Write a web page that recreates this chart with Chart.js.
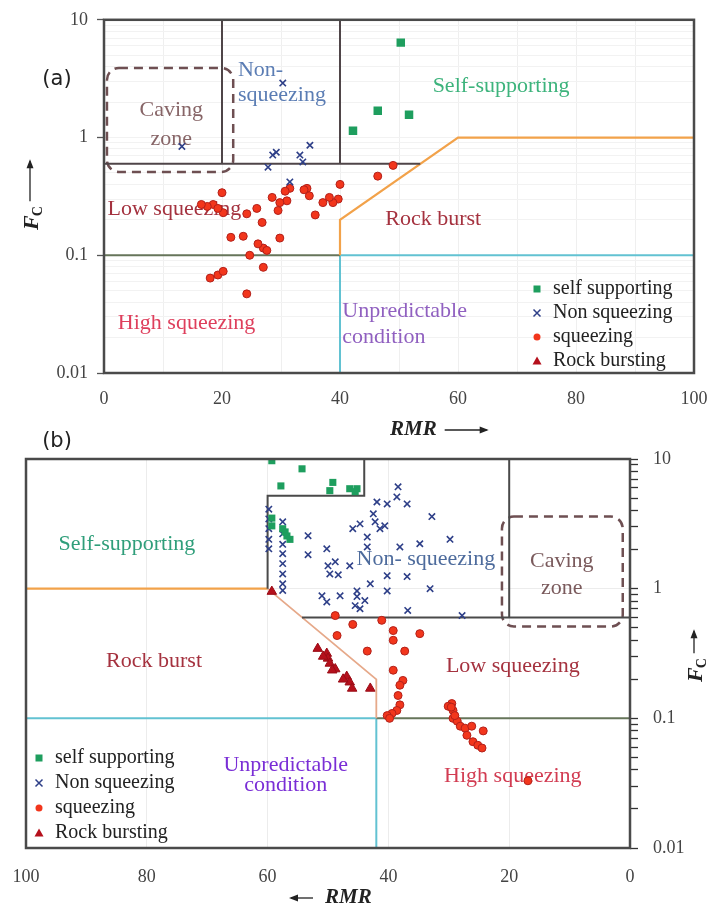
<!DOCTYPE html>
<html>
<head>
<meta charset="utf-8">
<script src="https://cdn.jsdelivr.net/npm/chart.js@4.4.1/dist/chart.umd.min.js"></script>
<style>
html, body { margin: 0; padding: 0; background: #fff; }
#wrap { position: relative; width: 710px; height: 912px; }
#chartA { position: absolute; left: 0; top: 0; }
#chartB { position: absolute; left: 0; top: 420px; }
</style>
</head>
<body>
<div id="wrap">
<canvas id="chartA" width="710" height="445"></canvas>
<canvas id="chartB" width="710" height="492"></canvas>
</div>
<script>
const SERIF = '"Liberation Serif", "DejaVu Serif", serif';

// axis ticks
const rmrTicks = [0, 10, 20, 30, 40, 50, 60, 70, 80, 90, 100];
const rmrLabels = [0, 20, 40, 60, 80, 100];
const fcTicks = [0.01, 0.02, 0.03, 0.04, 0.05, 0.06, 0.07, 0.08, 0.09,
                 0.1, 0.2, 0.3, 0.4, 0.5, 0.6, 0.7, 0.8, 0.9,
                 1, 2, 3, 4, 5, 6, 7, 8, 9, 10];
const fcLabels = [0.01, 0.1, 1, 10];

// (a) data points  [RMR, Fc]
const selfA = [[50.3, 6.4], [46.4, 1.69], [51.7, 1.56], [42.2, 1.14]];
const nonA = [[30.3, 2.9], [13.2, 0.84], [28.6, 0.71], [27.8, 0.56], [29.2, 0.75],
              [33.2, 0.71], [34.9, 0.86], [33.7, 0.62], [31.5, 0.42]];
const sqA = [[46.4, 0.47], [49, 0.58], [40, 0.40], [39.7, 0.30], [38.8, 0.28], [37.1, 0.28],
             [35.8, 0.22], [34.4, 0.37], [34.8, 0.32], [31.5, 0.37], [31, 0.29], [29.8, 0.28],
             [29.5, 0.24], [28.5, 0.31], [30.7, 0.35], [29.8, 0.14], [26.8, 0.19], [25.9, 0.25],
             [27, 0.115], [26.1, 0.125], [27.6, 0.11], [23.6, 0.145], [21.5, 0.142], [24.7, 0.1],
             [27, 0.079], [24.2, 0.047], [18, 0.064], [19.3, 0.068], [20.2, 0.073], [20, 0.34],
             [18.5, 0.27], [20.2, 0.23], [19.3, 0.25], [24.2, 0.225], [17.5, 0.26], [16.5, 0.27],
             [38.2, 0.31], [33.9, 0.36]];
const rockA = [];

// (b) data points  [RMR, Fc]
const selfB = [[59.3, 9.7], [54.3, 8.4], [57.8, 6.2], [49.2, 6.6], [49.7, 5.7], [46.4, 5.9],
               [45.2, 5.9], [45.5, 5.6], [59.3, 3.5], [59.3, 3.05], [57.1, 2.74], [56.3, 2.4],
               [57.5, 2.9], [56.8, 2.55]];
const nonB = [[59.8, 4.1], [59.8, 3.45], [59.8, 2.9], [59.8, 2.4], [59.8, 2.03],
              [57.5, 3.28], [57.5, 2.65], [57.5, 2.2], [57.5, 1.86], [57.5, 1.56], [57.5, 1.3],
              [57.5, 1.09], [57.5, 0.97], [53.3, 2.56], [53.3, 1.83], [50.2, 2.03], [48.8, 1.61],
              [50, 1.5], [49.7, 1.3], [48.3, 1.28], [51, 0.88], [48, 0.88], [50.2, 0.79],
              [45.2, 0.96], [45.2, 0.87], [45.5, 0.74], [43.9, 0.81], [45.9, 2.9], [44.7, 3.16],
              [42.5, 3.78], [42.2, 3.28], [41.4, 2.9], [43.5, 2.5], [41.9, 4.66], [40.2, 4.5],
              [38.4, 6.1], [38.6, 5.1], [36.9, 4.5], [32.8, 3.6], [43.5, 2.1], [38.1, 2.1],
              [34.8, 2.22], [29.8, 2.4], [40.2, 1.26], [36.9, 1.24], [43, 1.09], [40.2, 0.96],
              [33.1, 1.0], [36.8, 0.68], [27.8, 0.62], [44.7, 0.70], [40.6, 3.05], [46.4, 1.5]];
const sqB = [[48.8, 0.62], [45.9, 0.53], [41.1, 0.57], [48.5, 0.435], [43.5, 0.33], [39.2, 0.475],
             [39.2, 0.40], [34.8, 0.45], [37.3, 0.33], [39.2, 0.235], [37.6, 0.196], [38.1, 0.18],
             [38.4, 0.15], [38.1, 0.127], [38.6, 0.115], [39.4, 0.109], [40.2, 0.105], [39.8, 0.1],
             [29.5, 0.13], [29.3, 0.115], [29.3, 0.1], [28.6, 0.095], [28.1, 0.087], [27.3, 0.084],
             [26.2, 0.087], [24.3, 0.08], [26, 0.066], [25.2, 0.062], [24.5, 0.059], [27, 0.074],
             [30.1, 0.124], [29, 0.105], [29.6, 0.122], [16.9, 0.033]];
const rockB = [[59.3, 0.95], [51.7, 0.345], [50.2, 0.316], [50, 0.29], [49.7, 0.265], [48.8, 0.24],
               [49.3, 0.235], [46.9, 0.21], [46.4, 0.19], [46, 0.17], [43, 0.17], [50.8, 0.3],
               [47.5, 0.2]];

// boundary lines  [RMR, Fc]
const blackA = [[[20, 10], [20, 0.6]], [[40, 10], [40, 0.6]], [[0, 0.6], [53.6, 0.6]]];
const orangeA = [[40, 0.1], [40, 0.2], [60, 1], [100, 1]];
const oliveA = [[0, 0.1], [40, 0.1]];
const cyanA = [[[40, 0.1], [100, 0.1]], [[40, 0.1], [40, 0.01]]];
const cavingA = [0.5, 21.9, 0.51, 3.9];

const blackB = [[[60, 1], [60, 5.2], [44, 5.2], [44, 10]], [[20, 10], [20, 0.6]], [[54.3, 0.6], [0, 0.6]]];
const orangeB = [[100, 1], [60, 1], [42, 0.2], [42, 0.1]];
const oliveB = [[42, 0.1], [0, 0.1]];
const cyanB = [[[100, 0.1], [42, 0.1]], [[42, 0.1], [42, 0.01]]];
const cavingB = [1.2, 21.2, 0.51, 3.6];

const seriesNames = ['self supporting', 'Non squeezing', 'squeezing', 'Rock bursting'];

function pts(arr) { return arr.map(p => ({ x: p[0], y: p[1] })); }

function lineSet(arr, color, width) {
    return { data: pts(arr), showLine: true, pointRadius: 0, borderColor: color,
             borderWidth: width, order: 10, tension: 0 };
}

function markerSets(self, non, sq, rock, big) {
    return [
        { data: pts(self), pointStyle: 'rect', pointRadius: big ? 6 : 5, backgroundColor: '#1e9e5e',
          borderColor: '#1e9e5e', borderWidth: 0, order: 1 },
        { data: pts(non), pointStyle: 'crossRot', pointRadius: 4.5, borderColor: '#2e3f88',
          borderWidth: 1.6, order: 1 },
        { data: pts(sq), pointStyle: 'circle', pointRadius: 4, backgroundColor: '#f2361c',
          borderColor: '#b2201a', borderWidth: 1, order: 1 },
        { data: pts(rock), pointStyle: 'triangle', pointRadius: 5.5, backgroundColor: '#b5101c',
          borderColor: '#9a0c16', borderWidth: 1, order: 1 }
    ];
}

function drawMarker(ctx, style, x, y) {
    ctx.save();
    if (style === 0) {
        ctx.fillStyle = '#1e9e5e';
        ctx.fillRect(x - 3.5, y - 3.5, 7, 7);
    } else if (style === 1) {
        ctx.strokeStyle = '#2e3f88'; ctx.lineWidth = 1.5;
        ctx.beginPath();
        ctx.moveTo(x - 3.5, y - 3.5); ctx.lineTo(x + 3.5, y + 3.5);
        ctx.moveTo(x + 3.5, y - 3.5); ctx.lineTo(x - 3.5, y + 3.5);
        ctx.stroke();
    } else if (style === 2) {
        ctx.fillStyle = '#f2361c';
        ctx.beginPath(); ctx.arc(x, y, 3.5, 0, Math.PI * 2); ctx.fill();
    } else {
        ctx.fillStyle = '#b5101c';
        ctx.beginPath(); ctx.moveTo(x, y - 4.5); ctx.lineTo(x + 4.5, y + 3.5); ctx.lineTo(x - 4.5, y + 3.5);
        ctx.closePath(); ctx.fill();
    }
    ctx.restore();
}

function roundBox(ctx, x0, y0, x1, y1, r) {
    ctx.beginPath();
    ctx.moveTo(x0 + r, y0);
    ctx.arcTo(x1, y0, x1, y1, r);
    ctx.arcTo(x1, y1, x0, y1, r);
    ctx.arcTo(x0, y1, x0, y0, r);
    ctx.arcTo(x0, y0, x1, y0, r);
    ctx.closePath();
}

function hArrow(ctx, x0, x1, y) {
    // arrow head at x1
    const d = x1 > x0 ? 1 : -1;
    ctx.beginPath(); ctx.moveTo(x0, y); ctx.lineTo(x1 - d * 2, y); ctx.stroke();
    ctx.beginPath(); ctx.moveTo(x1, y); ctx.lineTo(x1 - d * 9, y - 3.5); ctx.lineTo(x1 - d * 9, y + 3.5);
    ctx.closePath(); ctx.fill();
}

function fcTitle(ctx, cx, yStart, arrowLen) {
    // rotated "F_C" reading upward followed by arrow
    ctx.save();
    ctx.translate(cx, yStart);
    ctx.rotate(-Math.PI / 2);
    ctx.fillStyle = '#222'; ctx.strokeStyle = '#222'; ctx.lineWidth = 1.3;
    ctx.textBaseline = 'alphabetic'; ctx.textAlign = 'left';
    ctx.font = 'bold italic 22px ' + SERIF;
    ctx.fillText('F', 0, 8);
    const w = ctx.measureText('F').width;
    ctx.font = 'bold 14px ' + SERIF;
    ctx.fillText('C', w - 1, 12);
    const w2 = w + ctx.measureText('C').width + 4;
    ctx.beginPath(); ctx.moveTo(w2, 0); ctx.lineTo(w2 + arrowLen - 2, 0); ctx.stroke();
    ctx.beginPath(); ctx.moveTo(w2 + arrowLen, 0); ctx.lineTo(w2 + arrowLen - 9, -3.5); ctx.lineTo(w2 + arrowLen - 9, 3.5);
    ctx.closePath(); ctx.fill();
    ctx.restore();
}

function makePlugin(cfg) {
    return {
        id: 'decor',
        beforeDatasetsDraw(chart) {
            const ctx = chart.ctx, xs = chart.scales.x, ys = chart.scales.y;
            // caving zone dashed box
            const c = cfg.caving;
            let xa = xs.getPixelForValue(c[0]), xb = xs.getPixelForValue(c[1]);
            const ya = ys.getPixelForValue(c[3]), yb = ys.getPixelForValue(c[2]);
            ctx.save();
            ctx.setLineDash([9, 6]);
            ctx.strokeStyle = '#6e4f52'; ctx.lineWidth = 2.5;
            roundBox(ctx, Math.min(xa, xb), ya, Math.max(xa, xb), yb, 12);
            ctx.stroke();
            ctx.restore();
            // region labels
            cfg.labels.forEach(it => {
                ctx.save();
                ctx.font = (it.f || '22px ') + SERIF;
                ctx.fillStyle = it.c;
                ctx.textAlign = it.a || 'center';
                ctx.textBaseline = 'middle';
                ctx.fillText(it.t, xs.getPixelForValue(it.x), ys.getPixelForValue(it.y));
                ctx.restore();
            });
        },
        afterDraw(chart) {
            const ctx = chart.ctx, a = chart.chartArea;
            ctx.save();
            ctx.strokeStyle = '#4a4a4a'; ctx.lineWidth = 2.5;
            ctx.strokeRect(a.left, a.top, a.right - a.left, a.bottom - a.top);
            // legend
            ctx.font = '20px ' + SERIF; ctx.fillStyle = '#222'; ctx.textBaseline = 'middle'; ctx.textAlign = 'left';
            seriesNames.forEach((n, i) => {
                const y = cfg.legY + i * cfg.legStep;
                drawMarker(ctx, i, cfg.legX, y);
                ctx.fillStyle = '#222';
                ctx.fillText(n, cfg.legX + 16, y);
            });
            // panel tag
            ctx.font = '21px "DejaVu Sans", sans-serif'; ctx.fillStyle = '#222';
            ctx.textAlign = 'center';
            ctx.fillText(cfg.tag[0], cfg.tag[1], cfg.tag[2]);
            // RMR title
            ctx.fillStyle = '#222'; ctx.strokeStyle = '#222'; ctx.lineWidth = 1.3;
            ctx.font = 'bold italic 21px ' + SERIF;
            ctx.textAlign = 'left'; ctx.textBaseline = 'middle';
            const rt = cfg.rmrTitle;
            ctx.fillText('RMR', rt.x, rt.y);
            const rw = ctx.measureText('RMR').width;
            if (rt.dir > 0) hArrow(ctx, rt.x + rw + 8, rt.x + rw + 52, rt.y);
            else hArrow(ctx, rt.x - 12, rt.x - 36, rt.y);
            ctx.restore();
            fcTitle(ctx, cfg.fc.x, cfg.fc.y, cfg.fc.len);
        }
    };
}

function makeChart(id, datasets, reverse, yPos, pad, yWidth, xHeight, grid, plugin) {
    return new Chart(document.getElementById(id), {
        type: 'scatter',
        data: { datasets: datasets },
        options: {
            responsive: false,
            animation: false,
            layout: { padding: pad },
            plugins: { legend: { display: false }, tooltip: { enabled: false } },
            scales: {
                x: {
                    type: 'linear', min: 0, max: 100, reverse: reverse,
                    afterBuildTicks: s => { s.ticks = rmrTicks.map(v => ({ value: v })); },
                    afterFit: s => { s.height = xHeight; s.paddingLeft = 0; s.paddingRight = 0; },
                    ticks: {
                        autoSkip: false, maxRotation: 0, padding: grid.xPad, color: '#444',
                        font: { family: SERIF, size: 18 },
                        callback: v => rmrLabels.includes(v) ? String(v) : ''
                    },
                    grid: { color: grid.xColor, drawTicks: false },
                    border: { display: false }
                },
                y: {
                    type: 'logarithmic', min: 0.01, max: 10, position: yPos,
                    afterBuildTicks: s => { s.ticks = fcTicks.map(v => ({ value: v })); },
                    afterFit: s => { s.width = yWidth; },
                    ticks: {
                        autoSkip: false, padding: grid.yPad, color: '#444',
                        font: { family: SERIF, size: 18 },
                        callback: v => fcLabels.includes(v) ? String(v) : ''
                    },
                    grid: {
                        color: grid.yColor, tickLength: grid.tickLen, tickWidth: 1.3,
                        tickColor: grid.tickColor
                    },
                    border: { display: false }
                }
            }
        },
        plugins: [plugin]
    });
}

// ---------- (a) ----------
const dsA = [
    ...markerSets(selfA, nonA, sqA, rockA, true),
    ...blackA.map(l => lineSet(l, '#4f4548', 2)),
    lineSet(orangeA, '#f2a24a', 2.2),
    lineSet(oliveA, '#66755a', 2),
    ...cyanA.map(l => lineSet(l, '#62c2d2', 2))
];
const labelsA = [
    { t: 'Non-', x: 22.7, y: 3.7, c: '#5b7db4', a: 'left' },
    { t: 'squeezing', x: 22.7, y: 2.3, c: '#5b7db4', a: 'left' },
    { t: 'Caving', x: 11.4, y: 1.72, c: '#876567' },
    { t: 'zone', x: 11.4, y: 0.96, c: '#876567' },
    { t: 'Self-supporting', x: 67.3, y: 2.73, c: '#3db37c' },
    { t: 'Low squeezing', x: 0.6, y: 0.248, c: '#a4323f', a: 'left' },
    { t: 'Rock burst', x: 55.8, y: 0.204, c: '#a5323f' },
    { t: 'High squeezing', x: 14, y: 0.0263, c: '#de3f5c' },
    { t: 'Unpredictable', x: 40.4, y: 0.0338, c: '#9060c0', a: 'left' },
    { t: 'condition', x: 40.4, y: 0.0201, c: '#9060c0', a: 'left' }
];
makeChart('chartA', dsA, false, 'left', { top: 17, right: 16, left: 0, bottom: 0 }, 104, 72,
    { xPad: 15, yPad: 9, tickLen: 7, xColor: '#efefef', yColor: '#f2f2f2',
      tickColor: c => fcLabels.includes(c.tick.value) ? '#555' : 'rgba(0,0,0,0)' },
    makePlugin({ caving: cavingA, labels: labelsA, legX: 537, legY: 289, legStep: 24,
                 tag: ['(a)', 57, 80], rmrTitle: { x: 390, y: 430, dir: 1 },
                 fc: { x: 30, y: 230, len: 42 } }));

// ---------- (b) ----------
const dsB = [
    ...markerSets(selfB, nonB, sqB, rockB, false),
    ...blackB.map(l => lineSet(l, '#4a4a4a', 2)),
    lineSet(orangeB.slice(0, 2), '#f2a24a', 2.2),
    lineSet(orangeB.slice(1), '#e6a98a', 1.8),
    lineSet(oliveB, '#66755a', 2),
    ...cyanB.map(l => lineSet(l, '#62c2d2', 2))
];
const labelsB = [
    { t: 'Self-supporting', x: 83.3, y: 2.22, c: '#2f9e7a' },
    { t: 'Non- squeezing', x: 33.8, y: 1.7, c: '#4d6b9c' },
    { t: 'Caving', x: 11.3, y: 1.64, c: '#7a5a5c' },
    { t: 'zone', x: 11.3, y: 1.0, c: '#7a5a5c' },
    { t: 'Rock burst', x: 78.8, y: 0.275, c: '#a5323f' },
    { t: 'Low squeezing', x: 19.4, y: 0.251, c: '#a5323f' },
    { t: 'Unpredictable', x: 57, y: 0.0435, c: '#7a2ed6' },
    { t: 'condition', x: 57, y: 0.0305, c: '#7a2ed6' },
    { t: 'High squeezing', x: 19.4, y: 0.0357, c: '#d23c52' }
];
makeChart('chartB', dsB, true, 'right', { top: 39, right: 0, left: 26, bottom: 0 }, 80, 64,
    { xPad: 18, yPad: 15, tickLen: 8,
      xColor: c => rmrLabels.includes(c.tick.value) ? '#ececec' : 'rgba(0,0,0,0)',
      yColor: c => fcLabels.includes(c.tick.value) ? '#ececec' : 'rgba(0,0,0,0)',
      tickColor: '#333' },
    makePlugin({ caving: cavingB, labels: labelsB, legX: 39, legY: 338, legStep: 25,
                 tag: ['(b)', 57, 22], rmrTitle: { x: 325, y: 478, dir: -1 },
                 fc: { x: 694, y: 262, len: 24 } }));
</script>
</body>
</html>
